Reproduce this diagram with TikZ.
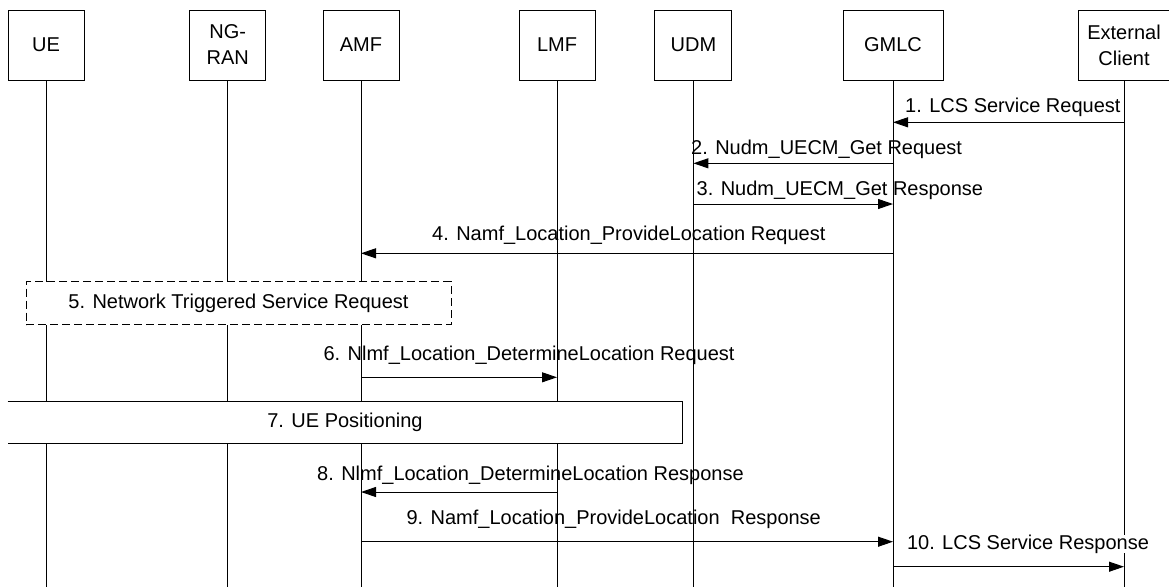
\documentclass[tikz,border=0pt]{standalone}
\usepackage{fontspec}
\setmainfont{Liberation Sans}
\usetikzlibrary{arrows.meta,positioning}
\tikzset{
  entity/.style={draw,line width=1pt,minimum height=70pt,inner sep=0pt,align=center},
  lifeline/.style={line width=1pt},
  msg/.style={-{Triangle[length=15pt,width=10pt]},line width=1pt},
  lab/.style={anchor=base west,inner sep=0pt},
  procbox/.style={fill=white,line width=1pt,inner sep=0pt}
}

\begin{document}
\begin{tikzpicture}[x=1pt,y=-1pt,font=\fontsize{20}{26}\selectfont]
  \useasboundingbox (0,0) rectangle (1169,587);

  % network entities
  \node[entity,minimum width=76pt] (ue) at (46,45) {UE};
  \node[entity,minimum width=76pt] (ngran) at (227.7,45) {NG-\\RAN};
  \node[entity,minimum width=76pt] (amf) at (361,45) {AMF};
  \node[entity,minimum width=76pt] (lmf) at (557,45) {LMF};
  \node[entity,minimum width=77pt] (udm) at (693.4,45) {UDM};
  \node[entity,minimum width=100pt] (gmlc) at (893,45) {GMLC};
  \node[entity,minimum width=92pt] (ext) at (1124,45) {External\\Client};

  \foreach \p in {ue,ngran,amf,lmf,udm,gmlc,ext}{
    \draw[lifeline] (\p.south) -- (\p |- 0,587);
  }

  % procedures spanning several entities
  \node[procbox,draw,dash pattern=on 8pt off 4pt,minimum width=425pt,minimum height=43pt]
    (nwtsr) at (238.5,303) {5. Network Triggered Service Request};
  \node[procbox,minimum width=674pt,minimum height=41pt]
    (uepos) at (345,422.5) {7. UE Positioning};
  \draw[line width=1pt] (uepos.north west) -- (uepos.north east)
    -- (uepos.south east) -- (uepos.south west);

  % messages
  \foreach \a/\b/\y in {ext/gmlc/122.3,gmlc/udm/163.3,udm/gmlc/204,gmlc/amf/253.3,
                        amf/lmf/377.3,lmf/amf/492,amf/gmlc/541.7,gmlc/ext/566.7}{
    \draw[msg] (\a |- 0,\y) -- (\b |- 0,\y);
  }

  \node[lab] (m1) at (905,112.7) {1. LCS Service Request};
  \node[lab] (m2) at (691,154) {2. Nudm\_UECM\_Get Request};
  \node[lab] (m3) at (696.5,195) {3. Nudm\_UECM\_Get Response};
  \node[lab] (m4) at (432,240) {4. Namf\_Location\_ProvideLocation Request};
  \node[lab] (m6) at (323.4,360) {6. Nlmf\_Location\_DetermineLocation Request};
  \node[lab] (m8) at (317,480) {8. Nlmf\_Location\_DetermineLocation Response};
  \node[lab] (m9) at (406.4,524.3) {9. Namf\_Location\_ProvideLocation~ Response};
  \node[lab,fill=white] (m10) at (906.8,549.3) {10. LCS Service Response};
\end{tikzpicture}
\end{document}
